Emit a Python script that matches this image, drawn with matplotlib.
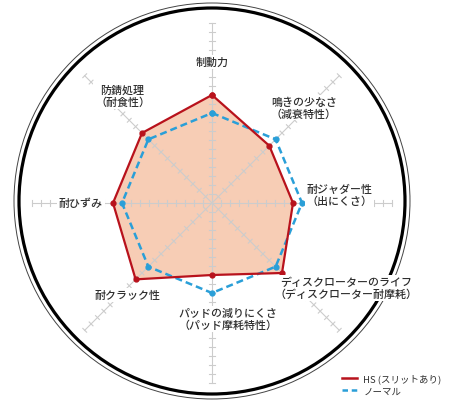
import numpy as np
import matplotlib
matplotlib.use("Agg")
import matplotlib.pyplot as plt
from matplotlib.lines import Line2D
from matplotlib.patches import Circle

plt.rcParams['font.family'] = ['Noto Sans CJK JP', 'DejaVu Sans']

# axes, clockwise from the top
categories = ["制動力", "鳴きの少なさ\n（減衰特性）", "耐ジャダー性\n（出にくさ）",
              "ディスクローターのライフ\n（ディスクローター耐摩耗）",
              "パッドの減りにくさ\n（パッド摩耗特性）", "耐クラック性", "耐ひずみ",
              "防錆処理\n（耐食性）"]
hs_values = [6.0, 4.5, 4.5, 5.5, 4.0, 6.0, 5.5, 5.5]
normal_values = [5.0, 5.0, 5.0, 5.0, 5.0, 5.0, 5.0, 5.0]
series_names = ["HS (スリットあり)", "ノーマル"]
r_max = 10
tick_step = 0.5

# label centres in data units (layout)
label_pos = [(0, 7.83), (5.1, 5.3), (7.1, 0.44), (7.44, -4.72),
             (0.89, -6.44), (-4.67, -5.11), (-7.28, 0), (-4.97, 5.94)]

red = "#b8121c"
blue = "#2a9fd8"
fill_col = "#f7cdb5"
grid_col = "#cccccc"
text_col = "#2e2e2e"

W, H = 462, 414
fig = plt.figure(figsize=(W / 100, H / 100), dpi=100)
ax = fig.add_axes([0, 0, 1, 1])
u = 18.0  # px per unit
cx, cy = 212, 204
ax.set_xlim(-cx / u, (W - cx) / u)
ax.set_ylim(-(H - cy) / u, cy / u)
ax.set_aspect('equal')
ax.axis('off')

n = len(categories)
ang = np.pi / 2 - np.arange(n) * 2 * np.pi / n


def xy(vals):
    v = np.asarray(vals)
    return v * np.cos(ang), v * np.sin(ang)


# outer ring
oc = (0, (cy - 202) / u)
ax.add_patch(Circle(oc, 193 / u, fill=False, ec="black", lw=2.3, zorder=1))
ax.add_patch(Circle(oc, 198 / u, fill=False, ec="#444444", lw=0.7, zorder=1))

# filled HS area
hx, hy = xy(hs_values)
ax.fill(hx, hy, color=fill_col, zorder=2, lw=0)

# spokes and ticks
ticks = np.arange(tick_step, r_max + 0.01, tick_step)
half = 0.15
for a in ang:
    ax.plot([0, r_max * np.cos(a)], [0, r_max * np.sin(a)], color=grid_col, lw=0.8, zorder=3)
    px, py = -np.sin(a), np.cos(a)
    for t in ticks:
        x0, y0 = t * np.cos(a), t * np.sin(a)
        ax.plot([x0 - half * px, x0 + half * px], [y0 - half * py, y0 + half * py],
                color=grid_col, lw=0.8, zorder=3)

# series
nx, ny = xy(normal_values)
ax.plot(np.append(nx, nx[0]), np.append(ny, ny[0]), color=blue, lw=1.8,
        dashes=(2.8, 1.6), marker='o', ms=3.5, zorder=4)
ax.plot(np.append(hx, hx[0]), np.append(hy, hy[0]), color=red, lw=1.6,
        marker='o', ms=3.5, zorder=5)

# labels
for lab, (lx, ly) in zip(categories, label_pos):
    ax.text(lx, ly, lab, ha='center', va='center', fontsize=7.9, color=text_col,
            weight='medium', linespacing=1.2, zorder=6,
            bbox=dict(boxstyle='square,pad=0.15', fc='white', ec='none'))

handles = [Line2D([], [], color=red, lw=1.8),
           Line2D([], [], color=blue, lw=1.8, dashes=(2.2, 1.5))]
ax.legend(handles, series_names, loc='upper left',
          bbox_to_anchor=(337 / W, 1 - 370 / H), bbox_transform=fig.transFigure,
          frameon=False, fontsize=6.8, handlelength=1.6, handletextpad=0.7,
          labelspacing=0.3, borderpad=0, labelcolor=text_col)

fig.savefig("out.png", dpi=100)
